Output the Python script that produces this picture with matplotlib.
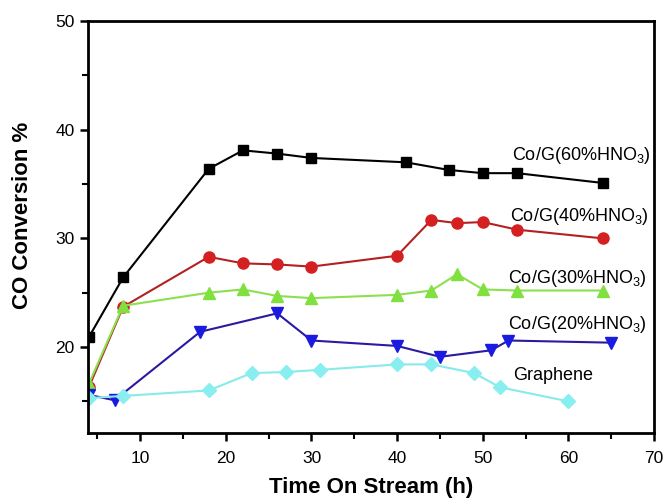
import numpy as np
import matplotlib.pyplot as plt
from matplotlib.ticker import MultipleLocator

plt.rcParams['font.family'] = ['Liberation Sans', 'DejaVu Sans']
plt.rcParams['mathtext.fontset'] = 'custom'
plt.rcParams['mathtext.rm'] = 'Liberation Sans'
plt.rcParams['mathtext.it'] = 'Liberation Sans:italic'
plt.rcParams['mathtext.bf'] = 'Liberation Sans:bold'

# data
x60 = [4, 8, 18, 22, 26, 30, 41, 46, 50, 54, 64]
y60 = [20.9, 26.4, 36.4, 38.1, 37.8, 37.4, 37.0, 36.3, 36.0, 36.0, 35.1]

x40 = [4, 8, 18, 22, 26, 30, 40, 44, 47, 50, 54, 64]
y40 = [16.3, 23.7, 28.3, 27.7, 27.6, 27.4, 28.4, 31.7, 31.4, 31.5, 30.8, 30.0]

x30 = [4, 8, 18, 22, 26, 30, 40, 44, 47, 50, 54, 64]
y30 = [16.6, 23.8, 25.0, 25.3, 24.7, 24.5, 24.8, 25.2, 26.7, 25.3, 25.2, 25.2]

x20 = [4, 7, 17, 26, 30, 40, 45, 51, 53, 65]
y20 = [15.6, 15.1, 21.4, 23.1, 20.6, 20.1, 19.1, 19.7, 20.6, 20.4]

xg = [4, 8, 18, 23, 27, 31, 40, 44, 49, 52, 60]
yg = [15.3, 15.5, 16.0, 17.6, 17.7, 17.9, 18.4, 18.4, 17.6, 16.3, 15.0]

labels = ['Co/G(60%HNO$_3$)', 'Co/G(40%HNO$_3$)', 'Co/G(30%HNO$_3$)',
          'Co/G(20%HNO$_3$)', 'Graphene']

fig = plt.figure(figsize=(6.64, 5.01), dpi=100)
ax = fig.add_axes([0.1325, 0.136, 0.8525, 0.822])

ax.plot(x60, y60, '-s', color='black', lw=1.5, ms=7)
ax.plot(x40, y40, '-o', color='#b22222', mfc='#d42020', mec='#d42020', lw=1.5, ms=8)
ax.plot(x30, y30, '-^', color='#8ce050', mfc='#80e040', mec='#80e040', lw=1.5, ms=8)
ax.plot(x20, y20, '-v', color='#2a1aa0', mfc='#1a1ae0', mec='#1a1ae0', lw=1.5, ms=8)
ax.plot(xg, yg, '-D', color='#88eaea', mfc='#88eef0', mec='#88eef0', lw=1.5, ms=7)

# curve labels
ax.text(53.4, 37.6, labels[0], fontsize=13, va='center')
ax.text(53.2, 32.0, labels[1], fontsize=13, va='center')
ax.text(53.0, 26.3, labels[2], fontsize=13, va='center')
ax.text(53.0, 22.1, labels[3], fontsize=13, va='center')
ax.text(53.5, 17.4, labels[4], fontsize=13, va='center')

ax.set_xlim(3.9, 70)
ax.set_ylim(12.1, 50)
ax.xaxis.set_major_locator(MultipleLocator(10))
ax.xaxis.set_minor_locator(MultipleLocator(5))
ax.yaxis.set_major_locator(MultipleLocator(10))
ax.yaxis.set_minor_locator(MultipleLocator(5))
ax.tick_params(which='major', direction='out', length=6, width=1.8, labelsize=12.5)
ax.tick_params(axis='x', which='major', pad=7)
ax.tick_params(which='minor', direction='out', length=4, width=1.5)
for s in ax.spines.values():
    s.set_linewidth(2)

ax.set_xlabel('Time On Stream (h)', fontsize=16, fontweight='bold', labelpad=8)
ax.set_ylabel('CO Conversion %', fontsize=16, fontweight='bold')
ax.yaxis.set_label_coords(-0.098, 0.527)

fig.savefig('out.png', dpi=100)
